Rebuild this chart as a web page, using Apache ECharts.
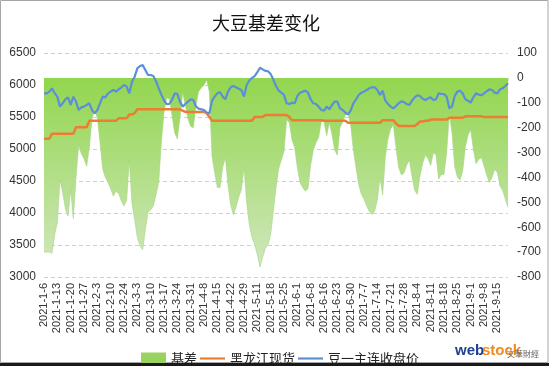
<!DOCTYPE html>
<html>
<head>
<meta charset="utf-8">
<script src="https://cdn.jsdelivr.net/npm/echarts@6/dist/echarts.min.js"></script>
<style>
html,body{margin:0;padding:0;background:#fff;}
#c{width:549px;height:366px;}
</style>
</head>
<body>
<div id="c"></div>
<script>
const title = '大豆基差变化';
const seriesNames = ['基差', '黑龙江现货', '豆一主连收盘价'];
const dates = [
'2021-1-6','2021-1-7','2021-1-8','2021-1-11','2021-1-12','2021-1-13','2021-1-14','2021-1-15','2021-1-18','2021-1-19',
'2021-1-20','2021-1-21','2021-1-22','2021-1-25','2021-1-26','2021-1-27','2021-1-28','2021-1-29','2021-2-1','2021-2-2',
'2021-2-3','2021-2-4','2021-2-5','2021-2-8','2021-2-9','2021-2-10','2021-2-18','2021-2-19','2021-2-22','2021-2-23',
'2021-2-24','2021-2-25','2021-2-26','2021-3-1','2021-3-2','2021-3-3','2021-3-4','2021-3-5','2021-3-8','2021-3-9',
'2021-3-10','2021-3-11','2021-3-12','2021-3-15','2021-3-16','2021-3-17','2021-3-18','2021-3-19','2021-3-22','2021-3-23',
'2021-3-24','2021-3-25','2021-3-26','2021-3-29','2021-3-30','2021-3-31','2021-4-1','2021-4-2','2021-4-6','2021-4-7',
'2021-4-8','2021-4-9','2021-4-12','2021-4-13','2021-4-14','2021-4-15','2021-4-16','2021-4-19','2021-4-20','2021-4-21',
'2021-4-22','2021-4-23','2021-4-26','2021-4-27','2021-4-28','2021-4-29','2021-4-30','2021-5-6','2021-5-7','2021-5-10',
'2021-5-11','2021-5-12','2021-5-13','2021-5-14','2021-5-17','2021-5-18','2021-5-19','2021-5-20','2021-5-21','2021-5-24',
'2021-5-25','2021-5-26','2021-5-27','2021-5-28','2021-5-31','2021-6-1','2021-6-2','2021-6-3','2021-6-4','2021-6-7',
'2021-6-8','2021-6-9','2021-6-10','2021-6-11','2021-6-15','2021-6-16','2021-6-17','2021-6-18','2021-6-21','2021-6-22',
'2021-6-23','2021-6-24','2021-6-25','2021-6-28','2021-6-29','2021-6-30','2021-7-1','2021-7-2','2021-7-5','2021-7-6',
'2021-7-7','2021-7-8','2021-7-9','2021-7-12','2021-7-13','2021-7-14','2021-7-15','2021-7-16','2021-7-19','2021-7-20',
'2021-7-21','2021-7-22','2021-7-23','2021-7-26','2021-7-27','2021-7-28','2021-7-29','2021-7-30','2021-8-2','2021-8-3',
'2021-8-4','2021-8-5','2021-8-6','2021-8-9','2021-8-10','2021-8-11','2021-8-12','2021-8-13','2021-8-16','2021-8-17',
'2021-8-18','2021-8-19','2021-8-20','2021-8-23','2021-8-24','2021-8-25','2021-8-26','2021-8-27','2021-8-30','2021-8-31',
'2021-9-1','2021-9-2','2021-9-3','2021-9-6','2021-9-7','2021-9-8','2021-9-9','2021-9-10','2021-9-13','2021-9-14',
'2021-9-15','2021-9-16','2021-9-17','2021-9-22','2021-9-23'
];
const basis = [
-700,-700,-700,-705,-630,-580,-410,-460,-525,-555,
-450,-565,-400,-270,-305,-325,-355,-280,-165,-130,
-160,-260,-365,-400,-420,-445,-475,-455,-465,-495,
-515,-490,-330,-505,-570,-640,-675,-690,-610,-540,
-530,-515,-470,-420,-260,-140,-80,-85,-150,-220,
-245,-160,-60,-110,-165,-195,-200,-110,-55,-40,
-30,-8,-57,-315,-380,-440,-440,-360,-320,-430,
-510,-550,-520,-480,-450,-360,-500,-590,-640,-670,
-710,-760,-720,-685,-670,-630,-535,-440,-365,-330,
-295,-168,-180,-250,-280,-360,-420,-440,-455,-445,
-350,-290,-260,-240,-175,-175,-232,-180,-228,-290,
-310,-200,-177,-150,-145,-189,-290,-360,-428,-467,
-488,-515,-537,-549,-535,-490,-400,-470,-318,-245,
-205,-188,-280,-360,-390,-382,-350,-330,-396,-452,
-468,-394,-343,-311,-324,-352,-301,-310,-406,-388,
-388,-300,-147,-220,-355,-398,-410,-375,-278,-230,
-208,-286,-345,-328,-320,-353,-390,-420,-400,-368,
-380,-435,-452,-487,-520
];
const spot = [
5160,5160,5160,5240,5240,5240,5240,5240,5240,5240,
5240,5240,5340,5340,5340,5340,5340,5440,5440,5440,
5440,5440,5440,5440,5440,5440,5440,5440,5480,5480,
5480,5480,5540,5540,5560,5620,5620,5620,5620,5620,
5620,5620,5620,5620,5620,5620,5620,5620,5620,5620,
5620,5620,5600,5580,5580,5580,5580,5580,5580,5580,
5580,5560,5500,5440,5440,5440,5440,5440,5440,5440,
5440,5440,5440,5440,5440,5440,5440,5440,5440,5500,
5500,5500,5500,5530,5530,5530,5530,5530,5530,5530,
5530,5530,5500,5450,5450,5450,5450,5450,5450,5450,
5450,5450,5450,5450,5450,5440,5440,5440,5440,5440,
5440,5440,5440,5440,5410,5410,5410,5410,5410,5410,
5410,5410,5410,5410,5410,5410,5410,5450,5450,5450,
5450,5450,5400,5360,5360,5360,5360,5360,5360,5360,
5390,5430,5430,5440,5440,5460,5460,5460,5460,5460,
5460,5460,5490,5490,5490,5490,5490,5490,5510,5510,
5510,5510,5510,5510,5510,5500,5500,5500,5500,5500,
5500,5500,5500,5500,5500
];
const futures = [
5870,5870,5896,5948,5870,5818,5662,5714,5776,5807,
5688,5818,5740,5609,5651,5662,5688,5714,5609,5557,
5609,5714,5818,5807,5870,5896,5922,5896,5932,5964,
6000,5974,5870,6052,6130,6260,6297,6312,6234,6156,
6156,6141,6060,5950,5850,5760,5700,5703,5766,5870,
5859,5740,5662,5703,5740,5776,5766,5662,5630,5620,
5609,5568,5557,5755,5818,5870,5891,5818,5776,5896,
5964,5984,5964,5943,5922,5820,6000,6070,6110,6140,
6200,6270,6245,6220,6215,6170,6085,5984,5911,5880,
5844,5714,5703,5724,5714,5828,5880,5896,5911,5880,
5776,5714,5703,5662,5609,5599,5662,5620,5688,5740,
5740,5635,5609,5568,5542,5599,5714,5776,5844,5880,
5896,5922,5948,5964,5964,5922,5844,5911,5755,5703,
5662,5635,5672,5714,5745,5734,5703,5688,5755,5807,
5839,5828,5786,5766,5792,5807,5766,5776,5870,5859,
5859,5818,5635,5662,5828,5896,5911,5870,5776,5755,
5724,5807,5870,5849,5839,5870,5901,5932,5922,5880,
5870,5932,5948,5984,6026
];
const leftTicks = {min: 3000, max: 6500, interval: 500};
const rightTicks = {min: -800, max: 100, interval: 100};

const latin = "'Liberation Sans', Arial, 'Noto Sans CJK SC', sans-serif";
const cjk = "'Noto Sans CJK SC', 'Liberation Sans', sans-serif";
const lineIcon = 'path://M0,0H30V2.6H0Z';

const chart = echarts.init(document.getElementById('c'), null, {renderer: 'canvas'});
chart.setOption({
  animation: false,
  backgroundColor: '#fff',
  title: {
    text: title, left: 207, top: 9,
    textStyle: {fontFamily: cjk, fontSize: 18, fontWeight: 'normal', color: '#111'}
  },
  grid: {left: 44, right: 41, top: 53, bottom: 89, containLabel: false},
  legend: {
    left: 136, top: 347, itemGap: 3, itemWidth: 25, itemHeight: 12,
    textStyle: {fontFamily: cjk, fontSize: 13, color: '#222'},
    data: [
      {name: seriesNames[0], icon: 'rect'},
      {name: seriesNames[1], icon: lineIcon},
      {name: seriesNames[2], icon: lineIcon}
    ]
  },
  xAxis: {
    type: 'category', data: dates, boundaryGap: false,
    axisLine: {show: true, lineStyle: {color: '#d9d9d9'}},
    axisTick: {show: true, interval: 0, length: 3, lineStyle: {color: '#d9d9d9'}},
    axisLabel: {interval: 4, rotate: 90, fontSize: 11, fontFamily: latin, color: '#333', margin: 6}
  },
  yAxis: [
    {
      type: 'value', min: leftTicks.min, max: leftTicks.max, interval: leftTicks.interval,
      axisLine: {show: false}, axisTick: {show: false},
      axisLabel: {fontSize: 12, fontFamily: latin, color: '#333', margin: 8, formatter: v => String(v)},
      splitLine: {show: true, lineStyle: {color: '#cfcfcf', type: [4, 3]}}
    },
    {
      type: 'value', min: rightTicks.min, max: rightTicks.max, interval: rightTicks.interval,
      axisLine: {show: false}, axisTick: {show: false},
      axisLabel: {fontSize: 12, fontFamily: latin, color: '#333', margin: 9, formatter: v => String(v)},
      splitLine: {show: false}
    }
  ],
  series: [
    {
      name: seriesNames[0], type: 'line', yAxisIndex: 1, data: basis,
      symbol: 'none', smooth: false,
      itemStyle: {color: '#9ad25f'},
      lineStyle: {width: 0.6, color: '#a5d383'},
      areaStyle: {
        opacity: 1,
        color: new echarts.graphic.LinearGradient(0, 77, 0, 277, [
          {offset: 0, color: '#92d64e'},
          {offset: 1, color: '#d3e8c3'}
        ], true)
      },
      z: 1
    },
    {
      name: seriesNames[1], type: 'line', yAxisIndex: 0, data: spot,
      symbol: 'none', itemStyle: {color: '#ed7d31'},
      lineStyle: {width: 2.5, color: '#ed7d31'}, z: 3
    },
    {
      name: seriesNames[2], type: 'line', yAxisIndex: 0, data: futures,
      symbol: 'none', itemStyle: {color: '#5b8fd6'},
      lineStyle: {width: 2.2, color: '#5b8fd6'}, z: 4
    }
  ],
  graphic: [
    {type: 'rect', shape: {x: 0.5, y: 0.5, width: 547.5, height: 362}, style: {fill: 'none', stroke: '#a6a6a6', lineWidth: 1}, silent: true},
    {type: 'rect', shape: {x: 0, y: 363, width: 549, height: 3}, style: {fill: '#1a1a1a'}, silent: true, z: 100},
    {type: 'text', left: 455, top: 343, style: {text: 'web', fontFamily: latin, fontSize: 15, fontWeight: 'bold', fill: '#1d3f8f'}},
    {type: 'text', left: 482, top: 343, style: {text: 'stock', fontFamily: latin, fontSize: 15, fontWeight: 'bold', fill: '#f08a1c'}},
    {type: 'text', left: 507, top: 350, style: {text: '文華財經', fontFamily: cjk, fontSize: 8, fill: '#666'}}
  ]
});
</script>
</body>
</html>
